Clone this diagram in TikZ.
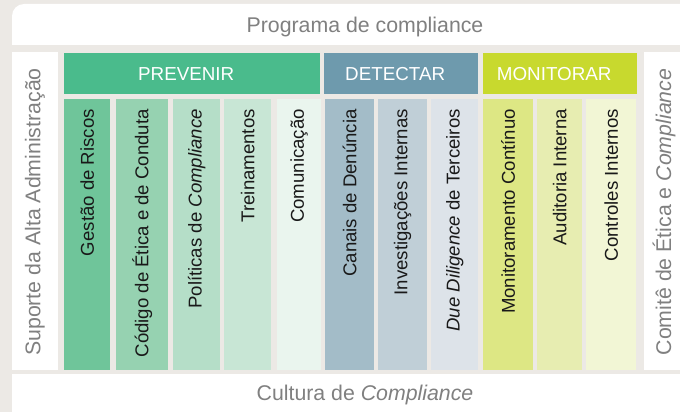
\documentclass[tikz,border=0pt]{standalone}
\usepackage{fontspec}
\setmainfont{Liberation Sans}
\usetikzlibrary{positioning}
\definecolor{bgc}{RGB}{236,233,229}
\definecolor{sidec}{RGB}{128,128,128}
\definecolor{txtc}{RGB}{25,25,25}
\definecolor{prevc}{RGB}{74,187,140}
\definecolor{detc}{RGB}{110,154,173}
\definecolor{monc}{RGB}{200,217,46}
\definecolor{pv1}{RGB}{111,197,154}
\definecolor{pv2}{RGB}{150,210,177}
\definecolor{pv3}{RGB}{181,222,200}
\definecolor{pv4}{RGB}{200,230,213}
\definecolor{pv5}{RGB}{234,245,238}
\definecolor{dt1}{RGB}{163,188,200}
\definecolor{dt2}{RGB}{192,207,215}
\definecolor{dt3}{RGB}{221,227,233}
\definecolor{mn1}{RGB}{221,231,132}
\definecolor{mn2}{RGB}{231,237,177}
\definecolor{mn3}{RGB}{242,246,213}
\tikzset{
  head/.style={fill=#1, minimum height=41pt, inner sep=0pt, anchor=north west},
  headtxt/.style={text=white, font=\fontsize{18.8}{20}\selectfont},
  col/.style={fill=#1, minimum height=271pt, inner sep=0pt, anchor=north west},
  coltxt/.style={rotate=90, anchor=east, inner sep=0pt, text=txtc,
                 font=\fontsize{18.6}{20}\selectfont},
  side/.style={text=sidec, inner sep=0pt, font=\fontsize{21.3}{24}\selectfont},
}

\begin{document}
\begin{tikzpicture}[x=1pt, y=-1pt]
  \useasboundingbox (0,0) rectangle (680,412);
  \clip (0,0) rectangle (680,412);
  % white frame with gray inner area
  \fill[bgc] (0,0) rectangle (680,412);
  \fill[white, rounded corners=12pt] (12,4) rectangle (720,440);
  \fill[bgc] (12,45) rectangle (680,52);
  \fill[bgc] (58,52) rectangle (644,370);
  \fill[bgc] (12,370) rectangle (680,374);

  % frame labels
  \node[side] (prog) at (365,27) {Programa de compliance};
  \node[side] (cult) at (365,395) {Cultura de \textit{Compliance}};
  \node[side, rotate=90] (supp) at (35,212) {Suporte da Alta Administração};
  \node[side, rotate=90] (comite) at (664,212) {Comitê de Ética e \textit{Compliance}};

  % headers
  \node[head=prevc, minimum width=256pt] (prev) at (64,53) {};
  \node[head=detc, minimum width=154pt] (det) at (324,53) {};
  \node[head=monc, minimum width=154pt] (mon) at (483,53) {};
  \node[headtxt] (prevt) at ([xshift=-6pt]prev.center) {PREVENIR};
  \node[headtxt] (dett) at ([xshift=-6pt]det.center) {DETECTAR};
  \node[headtxt] (mont) at ([xshift=-6pt]mon.center) {MONITORAR};

  % columns
  \foreach \x/\w/\c/\t [count=\i] in {
      64/46/pv1/{Gestão de Riscos},
      116/52/pv2/{Código de Ética e de Conduta},
      173/47/pv3/{Políticas de \textit{Compliance}},
      224/47/pv4/{Treinamentos},
      277/44/pv5/{Comunicação},
      325/49/dt1/{Canais de Denúncia},
      378/49/dt2/{Investigações Internas},
      431/47/dt3/{\textit{Due Diligence} de Terceiros},
      483/50/mn1/{Monitoramento Contínuo},
      537/45/mn2/{Auditoria Interna},
      586/50/mn3/{Controles Internos}} {
    \node[col=\c, minimum width=\w pt] (c\i) at (\x,99) {};
    \node[coltxt] (t\i) at ([yshift=-10pt]c\i.north) {\t};
  }
\end{tikzpicture}
\end{document}
